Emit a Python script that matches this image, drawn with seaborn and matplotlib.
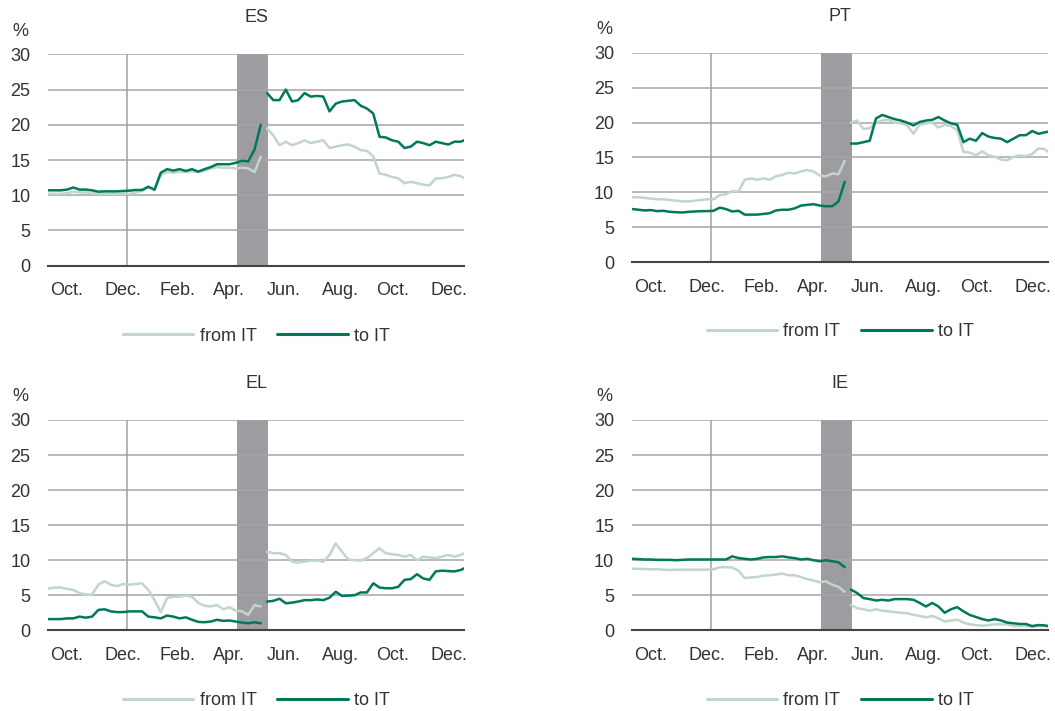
# Librerias
import pandas as pd
import numpy as np
import matplotlib.pyplot as plt
import seaborn as sns
import matplotlib.dates as mdates

# ========================================================= #
# Datos (lecturas semanales del gráfico)
# ========================================================= #

# Fechas: tramo antes y después de la ruptura de finales de mayo
fechas_pre = pd.date_range('2017-09-29', '2018-05-25', freq='7D')
fechas_post = pd.date_range('2018-06-01', '2019-01-04', freq='7D').append(pd.DatetimeIndex(['2019-01-08']))

# ES
es_from_pre = [10.2, 10.2, 10.2, 10.3, 10.5, 10.4, 10.4, 10.3, 10.2, 10.2, 10.2, 10.2, 10.2, 10.2, 10.4, 10.6, 11.2, 10.7,
               12.9, 13.3, 13.2, 13.3, 13.3, 13.4, 13.3, 13.5, 13.8, 14.0, 13.9, 13.9, 13.8, 13.9, 13.8, 13.3, 15.5]
es_from_post = [19.5, 18.5, 17.1, 17.6, 17.1, 17.4, 17.8, 17.4, 17.6, 17.8, 16.7, 16.9, 17.1, 17.2, 16.9, 16.4, 16.3,
                15.5, 13.1, 12.9, 12.6, 12.4, 11.7, 11.9, 11.7, 11.5, 11.4, 12.4, 12.4, 12.6, 12.9, 12.7, 12.4]
es_to_pre = [10.7, 10.7, 10.7, 10.8, 11.1, 10.8, 10.8, 10.7, 10.5, 10.55, 10.55, 10.55, 10.6, 10.65, 10.75, 10.75, 11.2,
             10.8, 13.2, 13.7, 13.5, 13.7, 13.45, 13.7, 13.35, 13.7, 14.0, 14.4, 14.4, 14.4, 14.6, 14.9, 14.8, 16.5, 20.0]
es_to_post = [24.5, 23.5, 23.5, 25.0, 23.3, 23.5, 24.5, 24.0, 24.1, 24.0, 21.9, 23.0, 23.3, 23.4, 23.5, 22.7, 22.3,
              21.6, 18.3, 18.2, 17.8, 17.6, 16.7, 16.9, 17.6, 17.4, 17.1, 17.6, 17.4, 17.2, 17.6, 17.6, 17.8]

# PT
pt_from_pre = [9.3, 9.3, 9.2, 9.1, 9.0, 9.0, 8.9, 8.8, 8.7, 8.7, 8.8, 8.9, 9.0, 9.0, 9.6, 9.7, 10.2, 10.1,
               11.8, 12.0, 11.8, 12.0, 11.8, 12.3, 12.5, 12.8, 12.7, 13.0, 13.2, 13.0, 12.4, 12.3, 12.7, 12.6, 14.5]
pt_from_post = [20.0, 20.3, 19.1, 19.2, 20.0, 20.3, 20.4, 20.0, 19.9, 19.6, 18.4, 19.7, 19.9, 20.0, 19.3, 19.7, 19.5,
                18.9, 15.8, 15.7, 15.3, 15.9, 15.3, 15.1, 14.7, 14.6, 15.1, 15.3, 15.2, 15.5, 16.3, 16.2, 15.8]
pt_to_pre = [7.6, 7.5, 7.4, 7.45, 7.3, 7.35, 7.2, 7.15, 7.1, 7.2, 7.25, 7.3, 7.3, 7.35, 7.8, 7.6, 7.25, 7.35,
             6.8, 6.8, 6.8, 6.9, 7.0, 7.4, 7.5, 7.5, 7.7, 8.1, 8.2, 8.3, 8.1, 8.0, 8.0, 8.7, 11.5]
pt_to_post = [17.0, 17.0, 17.2, 17.4, 20.6, 21.1, 20.8, 20.5, 20.3, 20.0, 19.6, 20.1, 20.3, 20.4, 20.8, 20.3, 19.9,
              19.7, 17.2, 17.7, 17.4, 18.5, 18.0, 17.8, 17.7, 17.2, 17.7, 18.2, 18.2, 18.8, 18.4, 18.6, 18.7]

# EL
el_from_pre = [5.95, 6.1, 6.1, 5.9, 5.75, 5.3, 5.1, 5.1, 6.5, 7.0, 6.5, 6.3, 6.6, 6.5, 6.6, 6.7, 5.75, 4.3,
               2.6, 4.6, 4.8, 4.8, 4.95, 4.8, 3.9, 3.5, 3.4, 3.6, 3.0, 3.3, 2.8, 2.7, 2.2, 3.6, 3.4]
el_from_post = [11.2, 11.0, 11.0, 10.75, 9.8, 9.65, 9.8, 9.95, 9.95, 9.8, 10.75, 12.4, 11.2, 10.1, 10.0, 9.95, 10.3,
                11.0, 11.7, 11.0, 10.85, 10.75, 10.5, 10.75, 10.0, 10.5, 10.4, 10.3, 10.5, 10.75, 10.5, 10.75, 11.0]
el_to_pre = [1.6, 1.6, 1.6, 1.7, 1.7, 1.95, 1.8, 1.95, 2.9, 3.0, 2.7, 2.6, 2.6, 2.7, 2.7, 2.7, 1.95, 1.85,
             1.7, 2.1, 1.95, 1.7, 1.85, 1.5, 1.2, 1.15, 1.25, 1.5, 1.35, 1.4, 1.25, 1.1, 1.0, 1.15, 1.0]
el_to_post = [4.1, 4.2, 4.5, 3.85, 3.95, 4.1, 4.3, 4.3, 4.4, 4.3, 4.65, 5.5, 4.9, 4.95, 5.0, 5.4, 5.4,
              6.7, 6.1, 6.0, 6.0, 6.2, 7.2, 7.3, 8.0, 7.4, 7.2, 8.4, 8.5, 8.45, 8.4, 8.6, 8.85]

# IE
ie_from_pre = [8.8, 8.75, 8.75, 8.7, 8.7, 8.65, 8.6, 8.65, 8.65, 8.65, 8.65, 8.65, 8.65, 8.7, 9.0, 9.0, 8.95, 8.5,
               7.45, 7.55, 7.6, 7.8, 7.85, 7.95, 8.1, 7.85, 7.85, 7.6, 7.3, 7.1, 6.85, 7.0, 6.5, 6.2, 5.5]
ie_from_post = [3.6, 3.15, 3.0, 2.8, 3.0, 2.8, 2.7, 2.6, 2.5, 2.45, 2.2, 2.05, 1.85, 2.05, 1.7, 1.25, 1.4,
                1.5, 1.1, 0.85, 0.75, 0.65, 0.75, 0.85, 0.85, 0.85, 0.6, 0.6, 0.6, 0.5, 0.6, 0.6, 0.6]
ie_to_pre = [10.2, 10.15, 10.1, 10.1, 10.05, 10.05, 10.05, 10.0, 10.05, 10.1, 10.1, 10.1, 10.1, 10.1, 10.1, 10.1, 10.55,
             10.3, 10.2, 10.1, 10.2, 10.4, 10.45, 10.45, 10.55, 10.4, 10.3, 10.1, 10.2, 10.0, 9.85, 10.0, 9.85, 9.7, 9.0]
ie_to_post = [5.8, 5.3, 4.6, 4.45, 4.25, 4.35, 4.25, 4.45, 4.45, 4.45, 4.35, 3.9, 3.4, 3.9, 3.4, 2.5, 3.0,
              3.3, 2.7, 2.2, 1.9, 1.6, 1.4, 1.6, 1.4, 1.1, 1.0, 0.9, 0.9, 0.6, 0.75, 0.7, 0.6]

paneles = {
    'ES': (es_from_pre, es_from_post, es_to_pre, es_to_post),
    'PT': (pt_from_pre, pt_from_post, pt_to_pre, pt_to_post),
    'EL': (el_from_pre, el_from_post, el_to_pre, el_to_post),
    'IE': (ie_from_pre, ie_from_post, ie_to_pre, ie_to_post),
}

# Etiquetas del eje x (inicio de mes)
meses_ticks = pd.to_datetime(['2017-10-01', '2017-12-01', '2018-02-01', '2018-04-01',
                              '2018-06-01', '2018-08-01', '2018-10-01', '2018-12-01'])
meses_labels = ['Oct.', 'Dec.', 'Feb.', 'Apr.', 'Jun.', 'Aug.', 'Oct.', 'Dec.']

# Periodo sombreado y línea de fin de año
banda_ini, banda_fin = pd.Timestamp('2018-04-28'), pd.Timestamp('2018-06-02')
fin_anyo = pd.Timestamp('2017-12-26')

colores = {'from IT': '#c2d5cb', 'to IT': '#00785c'}


def armar_df(from_pre, from_post, to_pre, to_post):
    partes = []
    for serie, pre, post in [('from IT', from_pre, from_post), ('to IT', to_pre, to_post)]:
        partes.append(pd.DataFrame({'fecha': fechas_pre, 'valor': pre, 'serie': serie, 'tramo': 'pre'}))
        partes.append(pd.DataFrame({'fecha': fechas_post, 'valor': post, 'serie': serie, 'tramo': 'post'}))
    return pd.concat(partes, ignore_index=True)


# ========================================================= #
# Gráfico
# ========================================================= #
sns.set_theme(style='white')
plt.rcParams['font.family'] = ['Liberation Sans', 'DejaVu Sans']
plt.rcParams['text.color'] = '#333333'

fig = plt.figure(figsize=(10.55, 7.11), dpi=100)
posiciones = {
    'ES': [0.0458, 0.6263, 0.3943, 0.2973],
    'PT': [0.5993, 0.6315, 0.3943, 0.2940],
    'EL': [0.0458, 0.1135, 0.3943, 0.2958],
    'IE': [0.5993, 0.1135, 0.3943, 0.2958],
}

for pais, series in paneles.items():
    ax = fig.add_axes(posiciones[pais])
    df = armar_df(*series)

    # Banda gris y línea vertical
    ax.axvspan(banda_ini, banda_fin, color='#9d9da1', zorder=1, lw=0)
    ax.axvline(fin_anyo, color='#a0a0a0', lw=1.1, zorder=1.6)

    sns.lineplot(data=df, x='fecha', y='valor', hue='serie', units='tramo', estimator=None,
                 hue_order=['from IT', 'to IT'], palette=colores, linewidth=1.8, ax=ax, zorder=2)

    ax.set_ylim(0, 30)
    ax.set_xlim(pd.Timestamp('2017-09-29'), pd.Timestamp('2019-01-08'))
    ax.set_yticks(range(0, 31, 5))
    ax.set_xticks(meses_ticks)
    ax.set_xticklabels(meses_labels)
    plt.setp(ax.get_xticklabels(), ha='left')
    ax.tick_params(axis='both', length=0, labelsize=13, colors='#333333')
    ax.tick_params(axis='y', pad=13)
    ax.tick_params(axis='x', pad=12)

    # Rejilla horizontal sobre la banda
    ax.set_axisbelow('line')
    ax.yaxis.grid(True, color='#a6a6a6', lw=1.1)
    ax.xaxis.grid(False)
    for lado in ['top', 'right', 'left']:
        ax.spines[lado].set_visible(False)
    ax.spines['bottom'].set_color('#444444')
    ax.spines['bottom'].set_linewidth(1.5)
    ax.spines['bottom'].set_zorder(3)

    ax.set_xlabel('')
    ax.set_ylabel('')
    ax.set_title(pais, fontsize=13, pad=23, color='#333333')
    ax.text(-0.066, 1.11, '%', transform=ax.transAxes, ha='center', va='center', fontsize=13)

    sns.move_legend(ax, 'center', bbox_to_anchor=(0.5, -0.333), ncol=2, title=None, frameon=False,
                    fontsize=13, handlelength=3.9, handletextpad=0.35, columnspacing=1.15)
    for linea in ax.get_legend().get_lines():
        linea.set_linewidth(2.2)

fig.savefig('out.png', dpi=100)
